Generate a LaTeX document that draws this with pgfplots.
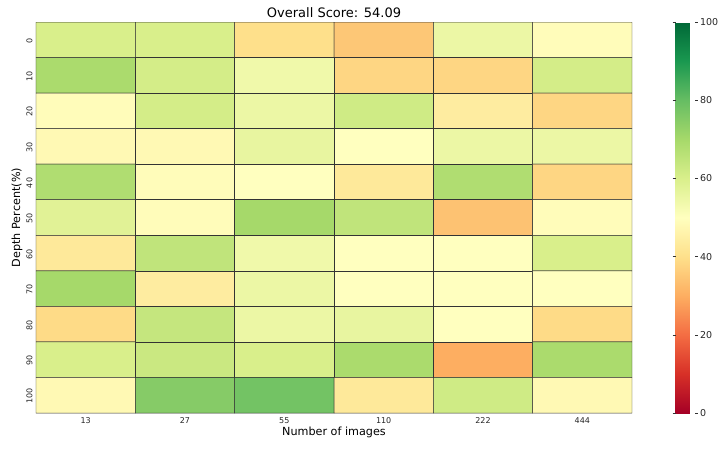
\documentclass[border=0pt]{standalone}
\usepackage{fontspec}
\setmainfont{DejaVu Sans}
\usepackage{pgfplots}
\usepackage{pgfplotstable}
\pgfplotsset{compat=1.18}
\pgfplotstableread{
x y z
0 0 60
1 0 60
2 0 40
3 0 35
4 0 55
5 0 49
0 1 69
1 1 61
2 1 54
3 1 38
4 1 38
5 1 61
0 2 49
1 2 61
2 2 55
3 2 62
4 2 44
5 2 38
0 3 48
1 3 48
2 3 56
3 3 50
4 3 55
5 3 55
0 4 68
1 4 49
2 4 50
3 4 43
4 4 68
5 4 38
0 5 58
1 5 49
2 5 70
3 5 65
4 5 34
5 5 49
0 6 43
1 6 65
2 6 54
3 6 50
4 6 50
5 6 60
0 7 70
1 7 44
2 7 55
3 7 50
4 7 50
5 7 50
0 8 39
1 8 64
2 8 55
3 8 56
4 8 50
5 8 39
0 9 60
1 9 63
2 9 60
3 9 69
4 9 30
5 9 69
0 10 48
1 10 75
2 10 78
3 10 43
4 10 62
5 10 48
}\datatable
\begin{document}
\begin{tikzpicture}
\useasboundingbox (-36pt,-37pt) rectangle (684pt,413pt);
\begin{axis}[
  at={(0pt,0pt)}, anchor=south west,
  scale only axis, width=596pt, height=391pt,
  xmin=-0.5, xmax=5.5, ymin=-0.5, ymax=10.5,
  y dir=reverse,
  axis line style={draw=none},
  xtick={0,1,2,3,4,5}, xticklabels={13,27,55,110,222,444},
  ytick={0,1,2,3,4,5,6,7,8,9,10},
  yticklabels={0,10,20,30,40,50,60,70,80,90,100},
  major tick length=0pt,
  xticklabel style={font=\fontsize{8}{9}\selectfont, text=black!85, yshift=-1pt},
  yticklabel style={rotate=90, anchor=south, font=\fontsize{8}{9}\selectfont, text=black!85, xshift=-1pt},
  /pgf/number format/assume math mode=true,
  title={Overall Score: 54.09},
  title style={font=\fontsize{13}{15}\selectfont, yshift=-5pt},
  xlabel={Number of images},
  ylabel={Depth Percent(\%)},
  label style={font=\fontsize{11.2}{13}\selectfont},
  xlabel style={yshift=3pt},
  ylabel style={yshift=-3pt},
  colormap={RdYlGn}{rgb255=(165,0,38) rgb255=(215,48,39) rgb255=(244,109,67) rgb255=(253,174,97) rgb255=(254,224,139) rgb255=(255,255,191) rgb255=(217,239,139) rgb255=(166,217,106) rgb255=(102,189,99) rgb255=(26,152,80) rgb255=(0,104,55)},
  point meta min=0, point meta max=100,
  colorbar,
  colorbar style={
    at={(parent axis.north east)}, anchor=north west, xshift=35pt,
    width=19pt,
    ytick={0,20,40,60,80,100},
    axis line style={draw=none},
    tick align=outside,
    major tick length=3pt,
    tick style={black!80},
    yticklabel style={font=\fontsize{9.5}{11}\selectfont, text=black!85, xshift=-1pt},
    /pgf/number format/assume math mode=true,
  },
]
\addplot[matrix plot, shader=faceted, faceted color=black!80, line width=0.5pt,
  mesh/cols=6, mesh/rows=11, point meta=explicit] table[x=x, y=y, meta=z] {\datatable};
\end{axis}
\end{tikzpicture}
\end{document}
